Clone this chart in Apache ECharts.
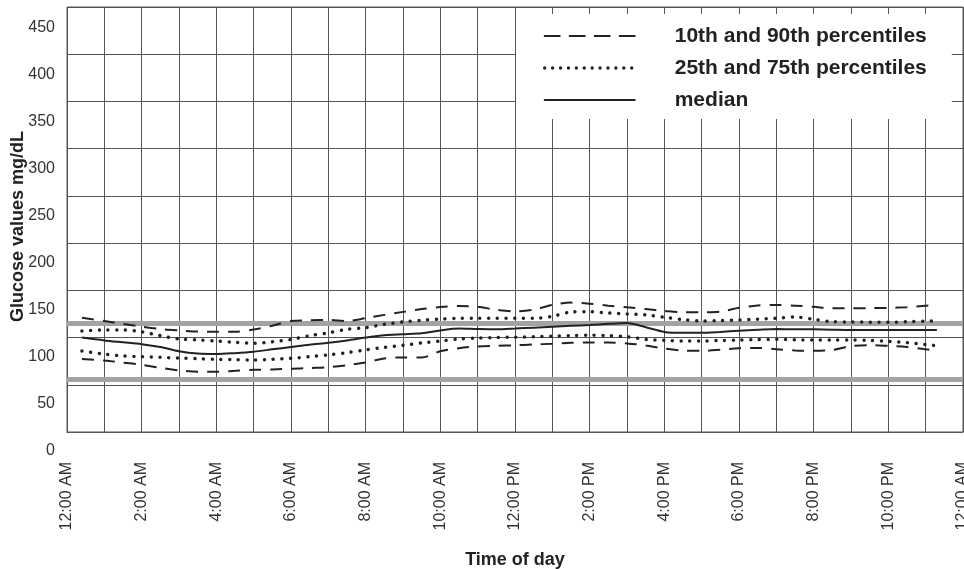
<!DOCTYPE html>
<html lang="en">
<head>
    <meta charset="UTF-8">
    <title>Glucose profile</title>
    <script src="https://cdn.jsdelivr.net/npm/echarts@6/dist/echarts.min.js"></script>
    <style>
        body { margin: 0; background: #fff; }
    </style>
</head>
<body>
    <div id="chart" style="width: 964px;height:569px"></div>
<script>
    // hours of day (x) and percentile values (mg/dL)
    var hours = [0.4, 1, 1.5, 2, 2.5, 3, 3.5, 4, 4.5, 5, 5.5, 6, 6.5, 7, 7.5, 8, 8.5, 9, 9.5, 10,
        10.5, 11, 11.5, 12, 12.5, 13, 13.5, 14, 14.5, 15, 15.5, 16, 16.5, 17, 17.5, 18, 18.5, 19, 19.5, 20,
        20.5, 21, 21.5, 22, 22.5, 23, 23.3];

    var p10 = [97.3, 95.7, 93.5, 91.2, 88, 85.3, 83.8, 83.8, 84.8, 85.8, 86.3, 86.9, 87.8, 88.6, 90.7, 93.5, 97.8, 99, 98.8, 105.5,
        108.8, 110.6, 111.3, 111.8, 112.7, 113.4, 114.4, 114.8, 114.8, 113.8, 111.6, 108.3, 106.3, 105.9, 107.1, 108.8, 109, 107.6, 106.4, 106,
        106.8, 111, 112, 111.2, 110, 107.5, 106.1];

    var p25 = [105.8, 102.5, 100.5, 99.8, 99.1, 98.3, 97.6, 97, 96.6, 96.3, 97, 98, 99.8, 101.7, 104, 107, 109.5, 111.8, 114.3, 116.3,
        118.5, 119.4, 120, 120.4, 120.9, 121.5, 122.1, 122.6, 122, 120.8, 118, 117, 116.4, 116.4, 116.9, 117.4, 117.8, 118.1, 117.7, 117.4,
        117.4, 117.4, 117, 116, 114.6, 112.5, 111.4];

    var median = [120, 117, 115, 113, 110, 105.5, 103, 102.5, 103.5, 105, 107.5, 110, 112.5, 114.5, 117, 120, 122.5, 123.5, 124.5, 127.5,
        129.5, 129, 128.7, 129.5, 130.5, 131.5, 132.5, 133.3, 134.5, 135.3, 131, 126, 125, 125, 126, 127.2, 128.2, 129, 128.8, 128.7,
        128.3, 128, 128, 128, 128, 128, 128];

    var p75 = [127, 128, 128, 126, 122, 118.5, 117.5, 116.3, 115, 114, 115.5, 118, 122, 125, 128.7, 130.5, 134, 136.5, 138.3, 139.5,
        140.4, 140.4, 140.4, 140.4, 140.4, 142.5, 147, 147.4, 146, 145, 144, 141.5, 139, 137.5, 138, 138.6, 139.5, 140.4, 141.8, 139.3,
        136.8, 136.5, 136.3, 136.1, 136.7, 137.3, 137.8];

    var p90 = [141, 137.5, 134.5, 131.5, 129, 127.5, 126.3, 126.2, 126.2, 128.5, 132.5, 137.5, 138.3, 138.6, 137.5, 140.5, 144, 147.2, 150.2, 152.3,
        153.4, 152.5, 149.5, 147.8, 149.5, 154.5, 157, 155.8, 153.8, 152, 150.2, 148.2, 146.7, 146.8, 147.5, 151.5, 154, 154.5, 153.8, 152.5,
        151, 151, 151.2, 151.4, 152.2, 153.6, 154.5];

    // gray target band limits
    var targetRange = [76, 135];

    // tick labels every 2 hours
    var hourLabels = ['12:00 AM', '2:00 AM', '4:00 AM', '6:00 AM', '8:00 AM', '10:00 AM', '12:00 PM',
        '2:00 PM', '4:00 PM', '6:00 PM', '8:00 PM', '10:00 PM', '12:00 AM'];

    var legendNames = ['10th and 90th percentiles', '25th and 75th percentiles', 'median'];

    function pairs(ys) {
        return hours.map(function (h, i) { return [h, ys[i]]; });
    }

    var font = 'Liberation Sans, Arial, sans-serif';
    var ink = '#222';
    var dash = [12, 9];
    var dots = [0.01, 8.7];

    var chart = echarts.init(document.getElementById('chart'));

    var option = {
        animation: false,
        textStyle: { fontFamily: font },
        legend: {
            data: [
                { name: legendNames[0], lineStyle: { width: 2, type: [15, 10] } },
                { name: legendNames[1], lineStyle: { width: 3.4, type: [0.01, 7.9], cap: 'round' } },
                { name: legendNames[2], lineStyle: { width: 2, type: 'solid' } }
            ],
            orient: 'vertical',
            left: 516,
            top: 14,
            padding: [10, 25, 7, 27],
            backgroundColor: '#fff',
            itemWidth: 90,
            itemHeight: 20,
            itemGap: 8,
            selectedMode: false,
            itemStyle: { color: 'rgba(0,0,0,0)', borderWidth: 0, opacity: 0 },
            lineStyle: { cap: 'round' },
            textStyle: {
                fontFamily: font,
                fontSize: 21,
                fontWeight: 'bold',
                color: ink,
                lineHeight: 24,
                padding: [0, 0, 0, 35]
            }
        },
        grid: [{
            left: 67,
            top: 7,
            width: 896,
            height: 425,
            outerBoundsMode: 'none',
            show: true,
            borderColor: '#555',
            borderWidth: 1
        }, {
            // label-only grid for the y axis tick numbers
            left: 67,
            top: 28,
            width: 896,
            height: 423,
            outerBoundsMode: 'none'
        }],
        xAxis: [{
            type: 'value',
            gridIndex: 0,
            min: 0,
            max: 24,
            interval: 1,
            name: 'Time of day',
            nameLocation: 'middle',
            nameGap: 119,
            nameTextStyle: { fontFamily: font, fontSize: 18, fontWeight: 'bold', color: ink },
            axisLine: { show: true, lineStyle: { color: '#555' } },
            axisTick: { show: false },
            splitLine: { show: true, lineStyle: { color: '#555', width: 1 } },
            axisLabel: {
                rotate: 90,
                margin: 30,
                fontSize: 16,
                color: '#333',
                showMinLabel: true,
                showMaxLabel: true,
                formatter: function (v) {
                    return v % 2 === 0 ? hourLabels[v / 2] : '';
                }
            }
        }, {
            type: 'value',
            gridIndex: 1,
            min: 0,
            max: 24,
            show: false
        }],
        yAxis: [{
            type: 'value',
            gridIndex: 0,
            min: 20,
            max: 470,
            interval: 50,
            name: 'Glucose values mg/dL',
            nameLocation: 'middle',
            nameGap: 40,
            nameTextStyle: { fontFamily: font, fontSize: 18, fontWeight: 'bold', color: ink, padding: [0, 14, 0, 0] },
            axisLine: { show: false },
            axisTick: { show: false },
            axisLabel: { show: false },
            splitLine: { show: true, lineStyle: { color: '#555', width: 1 } }
        }, {
            type: 'value',
            gridIndex: 1,
            min: 0,
            max: 450,
            interval: 50,
            axisLine: { show: false },
            axisTick: { show: false },
            splitLine: { show: false },
            axisLabel: { margin: 12, fontSize: 16, color: '#333' }
        }],
        series: [{
            name: 'target',
            type: 'line',
            xAxisIndex: 0,
            yAxisIndex: 0,
            data: [],
            silent: true,
            z: 1,
            markLine: {
                silent: true,
                z: 1,
                symbol: 'none',
                label: { show: false },
                lineStyle: { color: '#a3a3a3', width: 5, type: 'solid' },
                data: targetRange.map(function (v) { return { yAxis: v }; })
            }
        }, {
            name: legendNames[0],
            type: 'line',
            data: pairs(p90),
            symbol: 'none',
            smooth: 0.3,
            z: 3,
            itemStyle: { color: ink },
            lineStyle: { color: ink, width: 2, type: dash }
        }, {
            name: legendNames[0],
            type: 'line',
            data: pairs(p10),
            symbol: 'none',
            smooth: 0.3,
            z: 3,
            itemStyle: { color: ink },
            lineStyle: { color: ink, width: 2, type: dash }
        }, {
            name: legendNames[1],
            type: 'line',
            data: pairs(p75),
            symbol: 'none',
            smooth: 0.3,
            z: 3,
            itemStyle: { color: ink },
            lineStyle: { color: ink, width: 3.5, type: dots, cap: 'round' }
        }, {
            name: legendNames[1],
            type: 'line',
            data: pairs(p25),
            symbol: 'none',
            smooth: 0.3,
            z: 3,
            itemStyle: { color: ink },
            lineStyle: { color: ink, width: 3.5, type: dots, cap: 'round' }
        }, {
            name: legendNames[2],
            type: 'line',
            data: pairs(median),
            symbol: 'none',
            smooth: 0.3,
            z: 3,
            itemStyle: { color: ink },
            lineStyle: { color: ink, width: 2, type: 'solid' }
        }]
    };
    chart.setOption(option);
</script>
</body>
</html>
